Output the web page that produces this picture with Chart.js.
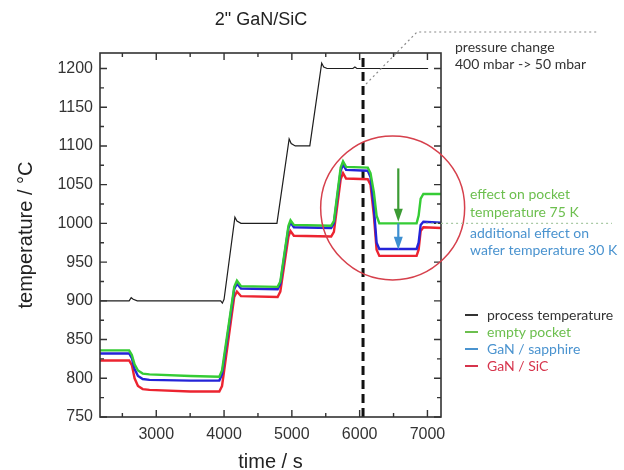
<!DOCTYPE html>
<html lang="en">
<head>
<meta charset="UTF-8">
<title>2" GaN/SiC</title>
<script src="https://cdn.jsdelivr.net/npm/chart.js"></script>
<style>
    html, body { margin: 0; padding: 0; background: #fff; }
    #wrap { width: 624px; height: 470px; }
</style>
</head>
<body>
<div id="wrap"><canvas id="tempChart" width="624" height="470"></canvas></div>
<script>
    // time (s) shared by the three pocket / wafer curves
    const timeWafer = [2170, 2600, 2640, 2680, 2730, 2800, 2900, 3500, 3930, 3970, 4150, 4190, 4250, 4790, 4830, 4950, 4980, 5030,
                       5580, 5620, 5720, 5755, 5800, 6120, 6160, 6210, 6250, 6290, 6840, 6870, 6900, 6940, 7200];
    const emptyPocket = [836, 836, 830, 818, 810, 806, 805, 803, 802, 810, 918, 926, 919, 918, 925, 997, 1004, 998,
                         997, 1003, 1072, 1080, 1073, 1072, 1065, 1040, 1010, 1000, 1000, 1010, 1032, 1038, 1038];
    const ganSapphire = [832, 832, 826, 812, 803, 799, 798, 797, 797, 805, 915, 922, 916, 915, 922, 994, 1001, 995,
                         994, 1000, 1068, 1076, 1069, 1068, 1060, 1020, 975, 967, 967, 975, 998, 1002, 1001];
    const ganSic = [823, 823, 817, 800, 790, 786, 785, 783, 783, 790, 905, 912, 906, 905, 912, 983, 990, 984,
                    983, 989, 1057, 1065, 1058, 1057, 1050, 1010, 966, 958, 958, 966, 990, 995, 994];

    // process (set point) temperature
    const timeProcess = [2170, 2600, 2630, 2660, 2720, 3950, 3975, 4000, 4160, 4190, 4250, 4780, 4960, 4990, 5050,
                         5265, 5440, 5470, 5520, 5900, 5930, 5960, 7010];
    const processTemp = [900, 900, 904, 902, 900, 900, 897, 902, 1008, 1003, 1000, 1000, 1109, 1103, 1100,
                         1100, 1207, 1202, 1200, 1200, 1202, 1200, 1200];

    const pressureChangeTime = 6050;
    const xTicks = [3000, 4000, 5000, 6000, 7000];
    const yTicks = [750, 800, 850, 900, 950, 1000, 1050, 1100, 1150, 1200];
    const seriesNames = ['process temperature', 'empty pocket', 'GaN / sapphire', 'GaN / SiC'];

    function pts(xs, ys) {
        return xs.map((x, i) => ({ x: x, y: ys[i] }));
    }

    // frame, inward ticks and the hand drawn notes of the figure
    const notes = {
        id: 'notes',
        afterDatasetsDraw(chart) {
            const ctx = chart.ctx;
            const a = chart.chartArea;
            const xs = chart.scales.x, ys = chart.scales.y;
            ctx.save();

            // frame
            ctx.strokeStyle = '#333';
            ctx.lineWidth = 1.6;
            ctx.strokeRect(a.left, a.top, a.right - a.left, a.bottom - a.top);

            // ticks, pointing inwards on all four sides
            ctx.lineWidth = 1.4;
            ctx.beginPath();
            xTicks.forEach(v => {
                [v, v - 500].forEach((t, k) => {
                    if (t < xs.min || t > xs.max) return;
                    const px = xs.getPixelForValue(t), len = k === 0 ? 7 : 4;
                    ctx.moveTo(px, a.bottom); ctx.lineTo(px, a.bottom - len);
                    ctx.moveTo(px, a.top); ctx.lineTo(px, a.top + len);
                });
            });
            yTicks.forEach(v => {
                [v, v + 25].forEach((t, k) => {
                    if (t < ys.min || t > ys.max) return;
                    const py = ys.getPixelForValue(t), len = k === 0 ? 7 : 4;
                    ctx.moveTo(a.left, py); ctx.lineTo(a.left + len, py);
                    ctx.moveTo(a.right, py); ctx.lineTo(a.right - len, py);
                });
            });
            ctx.stroke();

            // red circle round the pressure step
            ctx.strokeStyle = '#d6404c';
            ctx.lineWidth = 1.5;
            ctx.beginPath();
            ctx.arc(xs.getPixelForValue(6487), ys.getPixelForValue(1020), 72, 0, Math.PI * 2);
            ctx.stroke();

            // dotted guide at 1000 °C
            ctx.setLineDash([2, 3]);
            ctx.strokeStyle = '#a9c9a4';
            ctx.lineWidth = 1.2;
            ctx.beginPath();
            ctx.moveTo(xs.getPixelForValue(6980), ys.getPixelForValue(1000));
            ctx.lineTo(612, ys.getPixelForValue(1000));
            ctx.stroke();

            // leader to the pressure note
            ctx.strokeStyle = '#8a8a8a';
            ctx.beginPath();
            ctx.moveTo(xs.getPixelForValue(pressureChangeTime) + 3, ys.getPixelForValue(1180));
            ctx.lineTo(417, 32);
            ctx.lineTo(598, 32);
            ctx.stroke();
            ctx.setLineDash([]);

            // arrows
            function arrow(x, y0, y1, color) {
                const px = xs.getPixelForValue(x), p0 = ys.getPixelForValue(y0), p1 = ys.getPixelForValue(y1);
                ctx.strokeStyle = color;
                ctx.fillStyle = color;
                ctx.lineWidth = 2.2;
                ctx.beginPath();
                ctx.moveTo(px, p0); ctx.lineTo(px, p1 - 10);
                ctx.stroke();
                ctx.beginPath();
                ctx.moveTo(px - 4.5, p1 - 13); ctx.lineTo(px + 4.5, p1 - 13); ctx.lineTo(px, p1);
                ctx.closePath();
                ctx.fill();
            }
            arrow(6570, 1071, 1002, '#3c9b34');
            arrow(6570, 1000, 966, '#3d8fd1');

            // texts
            ctx.textBaseline = 'middle';
            ctx.textAlign = 'center';
            ctx.fillStyle = '#222';
            ctx.font = '18px "Liberation Sans", Arial, sans-serif';
            ctx.fillText('2" GaN/SiC', 261, 20);

            ctx.textAlign = 'left';
            ctx.font = '14px Lato, "Open Sans", sans-serif';
            ctx.fillStyle = '#333';
            ctx.fillText('pressure change', 455, 47);
            ctx.fillText('400 mbar -> 50 mbar', 455, 64);
            ctx.fillStyle = '#6cbf4e';
            ctx.fillText('effect on pocket', 470, 194);
            ctx.fillText('temperature 75 K', 470, 212);
            ctx.fillStyle = '#4a93cf';
            ctx.fillText('additional effect on', 470, 233);
            ctx.fillText('wafer temperature 30 K', 470, 250);

            // legend
            const legendColors = ['#333333', '#6cbf4e', '#4a93cf', '#d6344c'];
            seriesNames.forEach((name, i) => {
                const y = 315 + i * 17;
                ctx.strokeStyle = legendColors[i];
                ctx.lineWidth = 2;
                ctx.beginPath();
                ctx.moveTo(465, y); ctx.lineTo(478, y);
                ctx.stroke();
                ctx.fillStyle = legendColors[i];
                ctx.fillText(name, 487, y);
            });
            ctx.restore();
        }
    };

    const ctx = document.getElementById('tempChart').getContext('2d');
    const tempChart = new Chart(ctx, {
        type: 'line',
        data: {
            datasets: [
                {
                    label: seriesNames[0],
                    data: pts(timeProcess, processTemp),
                    borderColor: '#1e1e1e',
                    borderWidth: 1.2
                },
                {
                    label: seriesNames[1],
                    data: pts(timeWafer, emptyPocket),
                    borderColor: '#35cc35',
                    borderWidth: 2.4
                },
                {
                    label: seriesNames[2],
                    data: pts(timeWafer, ganSapphire),
                    borderColor: '#2424d8',
                    borderWidth: 2.4
                },
                {
                    label: seriesNames[3],
                    data: pts(timeWafer, ganSic),
                    borderColor: '#ec2430',
                    borderWidth: 2.4
                },
                {
                    label: 'pressure change',
                    data: [{ x: pressureChangeTime, y: 750 }, { x: pressureChangeTime, y: 1220 }],
                    borderColor: '#111',
                    borderWidth: 3,
                    borderDash: [9, 5]
                }
            ]
        },
        options: {
            responsive: false,
            animation: false,
            parsing: false,
            elements: {
                point: { radius: 0 },
                line: { tension: 0, fill: false }
            },
            layout: { padding: { left: 0, top: 53, right: 183, bottom: 0 } },
            plugins: {
                legend: { display: false },
                tooltip: { enabled: false },
                title: { display: false }
            },
            scales: {
                x: {
                    type: 'linear',
                    min: 2170,
                    max: 7200,
                    afterBuildTicks: s => { s.ticks = xTicks.map(v => ({ value: v })); },
                    afterFit: s => { s.height = 53; },
                    grid: { display: false, drawTicks: false },
                    border: { display: false },
                    ticks: {
                        padding: 8,
                        color: '#333',
                        callback: v => String(v),
                        font: { family: '"Liberation Sans", Arial, sans-serif', size: 16 }
                    },
                    title: {
                        display: true,
                        text: 'time / s',
                        color: '#222',
                        padding: { top: 0, bottom: -2 },
                        font: { family: '"Liberation Sans", Arial, sans-serif', size: 20, lineHeight: 1 }
                    }
                },
                y: {
                    type: 'linear',
                    min: 750,
                    max: 1220,
                    afterBuildTicks: s => { s.ticks = yTicks.map(v => ({ value: v })); },
                    afterFit: s => { s.width = 100; },
                    grid: { display: false, drawTicks: false },
                    border: { display: false },
                    ticks: {
                        padding: 7,
                        color: '#333',
                        callback: v => String(v),
                        font: { family: '"Liberation Sans", Arial, sans-serif', size: 16 }
                    },
                    title: {
                        display: true,
                        text: 'temperature / °C',
                        color: '#222',
                        padding: { top: 16, bottom: 0 },
                        font: { family: '"Liberation Sans", Arial, sans-serif', size: 20, lineHeight: 1 }
                    }
                }
            }
        },
        plugins: [notes]
    });
</script>
</body>
</html>
